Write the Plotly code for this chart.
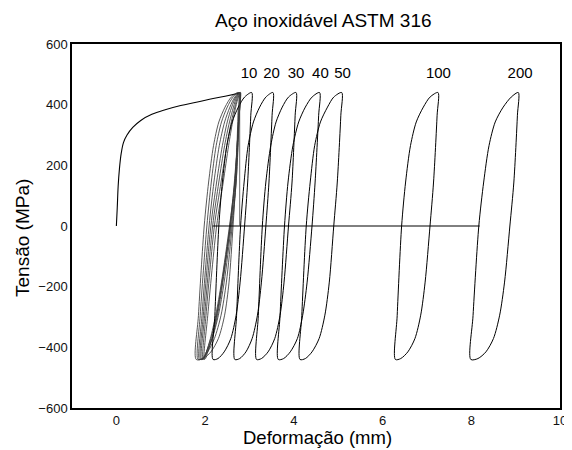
import plotly.graph_objects as go

# Monotonic (first loading) curve
mono_x = [0, 0.02, 0.04, 0.07, 0.11, 0.16, 0.24, 0.37, 0.55, 0.8, 1.1, 1.45, 1.8, 2.1, 2.45, 2.78]
mono_y = [0, 60, 130, 190, 240, 275, 300, 325, 348, 368, 383, 397, 408, 418, 428, 438]

# Stress values along each hysteresis loop (bottom -> up -> top -> down -> bottom)
loop_y = [-440, -295, 0, 145, 265, 343, 392, 425, 440, 365, 145, 0, -185, -294, -371, -415, -437, -440]

# Early cycles (1-9) clustered together
cluster_x = [
    [1.80, 1.85, 1.98, 2.08, 2.19, 2.31, 2.45, 2.59, 2.75, 2.74, 2.69, 2.63, 2.54, 2.44, 2.30, 2.13, 1.96, 1.80],
    [1.84, 1.89, 2.04, 2.14, 2.25, 2.37, 2.50, 2.63, 2.77, 2.76, 2.70, 2.61, 2.48, 2.36, 2.21, 2.06, 1.94, 1.84],
    [1.87, 1.93, 2.09, 2.20, 2.32, 2.44, 2.56, 2.67, 2.78, 2.77, 2.70, 2.59, 2.43, 2.30, 2.16, 2.03, 1.94, 1.87],
    [1.90, 1.96, 2.13, 2.26, 2.39, 2.50, 2.60, 2.69, 2.78, 2.76, 2.67, 2.57, 2.40, 2.28, 2.16, 2.05, 1.97, 1.90],
    [1.92, 1.99, 2.17, 2.31, 2.44, 2.55, 2.64, 2.71, 2.79, 2.77, 2.68, 2.57, 2.39, 2.26, 2.13, 2.03, 1.97, 1.92],
    [1.95, 2.02, 2.21, 2.36, 2.49, 2.59, 2.67, 2.73, 2.79, 2.76, 2.67, 2.55, 2.37, 2.24, 2.12, 2.03, 1.98, 1.95],
    [1.98, 2.06, 2.26, 2.41, 2.53, 2.62, 2.69, 2.75, 2.80, 2.77, 2.66, 2.56, 2.38, 2.26, 2.15, 2.06, 2.01, 1.98],
]

# Labelled cycles
cycle_labels = ["10", "20", "30", "40", "50", "100", "200"]
cycle_x = [
    [2.18, 2.22, 2.31, 2.39, 2.49, 2.61, 2.75, 2.89, 3.05, 3.03, 2.96, 2.89, 2.79, 2.70, 2.58, 2.43, 2.29, 2.18],
    [2.67, 2.71, 2.80, 2.88, 2.97, 3.09, 3.23, 3.37, 3.53, 3.51, 3.44, 3.37, 3.27, 3.18, 3.06, 2.92, 2.78, 2.67],
    [3.16, 3.20, 3.29, 3.37, 3.48, 3.60, 3.74, 3.88, 4.05, 4.03, 3.96, 3.88, 3.78, 3.69, 3.57, 3.42, 3.27, 3.16],
    [3.65, 3.69, 3.79, 3.87, 3.98, 4.11, 4.26, 4.41, 4.58, 4.56, 4.48, 4.41, 4.30, 4.20, 4.08, 3.92, 3.77, 3.65],
    [4.14, 4.18, 4.28, 4.37, 4.47, 4.60, 4.76, 4.90, 5.08, 5.06, 4.98, 4.90, 4.80, 4.70, 4.57, 4.41, 4.26, 4.14],
    [6.29, 6.33, 6.43, 6.52, 6.63, 6.76, 6.92, 7.07, 7.25, 7.23, 7.15, 7.07, 6.96, 6.86, 6.73, 6.57, 6.41, 6.29],
    [7.99, 8.04, 8.17, 8.28, 8.40, 8.54, 8.72, 8.90, 9.06, 9.04, 8.96, 8.87, 8.75, 8.64, 8.50, 8.33, 8.15, 7.99],
]
label_x = [2.99, 3.50, 4.05, 4.60, 5.10, 7.26, 9.10]
label_y = 500

# Zero-stress connecting line
zero_x = [2.17, 8.19]
zero_y = [0, 0]
drop_x = [2.78, 2.78]
drop_y = [438, 0]

FONT = "Liberation Sans, Arial"
fig = go.Figure()
fig.add_trace(go.Scatter(x=mono_x, y=mono_y, mode="lines",
                         line=dict(color="black", width=1.1, shape="spline")))
for xs in cluster_x:
    fig.add_trace(go.Scatter(x=xs, y=loop_y, mode="lines",
                             line=dict(color="#3a3a3a", width=0.85, shape="spline", smoothing=0.8)))
for xs in cycle_x:
    fig.add_trace(go.Scatter(x=xs, y=loop_y, mode="lines",
                             line=dict(color="black", width=1, shape="spline", smoothing=0.8)))
fig.add_trace(go.Scatter(x=zero_x, y=zero_y, mode="lines", line=dict(color="black", width=1)))
fig.add_trace(go.Scatter(x=drop_x, y=drop_y, mode="lines", line=dict(color="#444", width=0.8)))
fig.add_trace(go.Scatter(x=label_x, y=[label_y] * len(label_x), mode="text", text=cycle_labels,
                         textfont=dict(family=FONT, size=15, color="black")))

axis_common = dict(showgrid=False, zeroline=False, showline=True, linecolor="black", linewidth=1.5,
                   mirror=True, ticks="", automargin=False,
                   tickfont=dict(family=FONT, size=13, color="#111"))
# The page body adds an 8px offset, so the figure is sized to fit the window.
fig.update_layout(
    width=564, height=442,
    margin=dict(l=64, r=12, t=36, b=42),
    paper_bgcolor="white", plot_bgcolor="white",
    showlegend=False,
    title=dict(text="Aço inoxidável ASTM 316", x=0.559, xanchor="center", y=0.971, yanchor="middle",
               font=dict(family=FONT, size=19, color="black")),
    xaxis=dict(range=[-1, 10], tickvals=[0, 2, 4, 6, 8, 10], **axis_common),
    yaxis=dict(range=[-600, 600], tickvals=[-600, -400, -200, 0, 200, 400, 600],
               ticklabelstandoff=0, **axis_common),
    annotations=[
        dict(text="Deformação (mm)", xref="paper", yref="paper", x=0.504, y=-0.08,
             xanchor="center", yanchor="middle", showarrow=False,
             font=dict(family=FONT, size=18.5, color="black")),
        dict(text="Tensão (MPa)", xref="paper", yref="paper", x=-0.1025, y=0.467,
             xanchor="center", yanchor="middle", showarrow=False, textangle=-90,
             font=dict(family=FONT, size=19, color="black")),
    ],
)
fig.write_html("out.html")
